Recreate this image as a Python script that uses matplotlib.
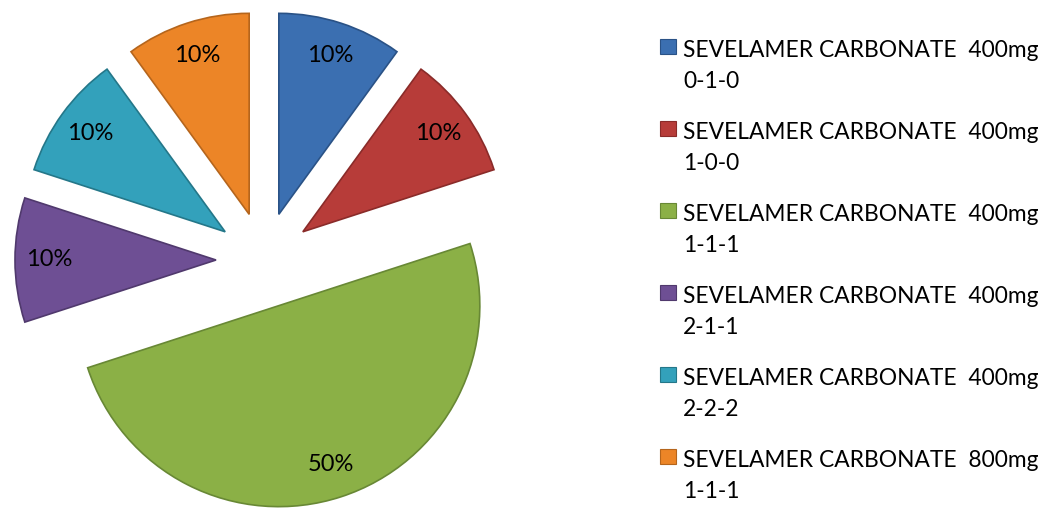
import matplotlib.pyplot as plt
from matplotlib.patches import Rectangle

# dosage groups and their share of patients
labels = [
    "SEVELAMER CARBONATE  400mg\n0-1-0",
    "SEVELAMER CARBONATE  400mg\n1-0-0",
    "SEVELAMER CARBONATE  400mg\n1-1-1",
    "SEVELAMER CARBONATE  400mg\n2-1-1",
    "SEVELAMER CARBONATE  400mg\n2-2-2",
    "SEVELAMER CARBONATE  800mg\n1-1-1",
]
shares = [10, 10, 50, 10, 10, 10]
colors = ["#3b6fb1", "#b73c39", "#8bb046", "#6e4f94", "#33a1bb", "#ec8527"]
edges = ["#2a5286", "#8a2b29", "#688835", "#50396d", "#247789", "#b5651c"]

W, H = 1040, 513
plt.rcParams['font.family'] = ['Lato', 'DejaVu Sans']

fig = plt.figure(figsize=(W / 100, H / 100), dpi=100)
ax = fig.add_axes([0, 0, 1, 1])
ax.set_xlim(0, W)
ax.set_ylim(0, H)
ax.axis('off')

wedges, texts, autotexts = ax.pie(
    shares, center=(264, H - 260), radius=201,
    explode=[48] * len(shares), startangle=90, counterclock=False,
    colors=colors, autopct='%1.0f%%', pctdistance=0.83,
    wedgeprops=dict(linewidth=1.2), textprops=dict(fontsize=17),
    frame=False)
for w, ec in zip(wedges, edges):
    w.set_edgecolor(ec)
ax.set_xlim(0, W)
ax.set_ylim(0, H)
ax.set_aspect('equal')

# legend drawn entry by entry so the swatch sits on the first text line
for i, (lab, c, ec) in enumerate(zip(labels, colors, edges)):
    base = 57 + 82 * i
    ax.add_patch(Rectangle((660, H - 54 - 82 * i), 16, 15,
                           facecolor=c, edgecolor=ec, linewidth=0.8))
    line1, line2 = lab.split("\n")
    ax.text(683, H - base, line1, fontsize=16.4, va='baseline', ha='left')
    ax.text(683, H - base - 31, line2, fontsize=16.4, va='baseline', ha='left')

fig.savefig("out.png", dpi=100)
